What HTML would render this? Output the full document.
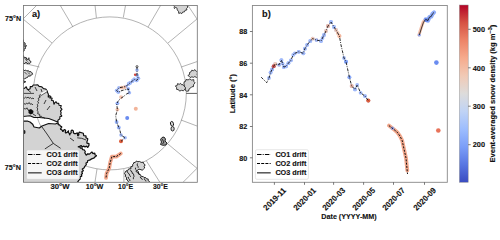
<!DOCTYPE html><html><head><meta charset="utf-8"><style>html,body{margin:0;padding:0;background:#fff;}svg{display:block;}text{font-family:"Liberation Sans", sans-serif;font-weight:bold;fill:#111;stroke:#111;stroke-width:0.12px;}</style></head><body>
<svg width="500" height="225" viewBox="0 0 500 225">
<defs><clipPath id="mapclip"><rect x="23" y="5" width="174" height="177"/></clipPath><clipPath id="axclip"><rect x="252" y="5" width="195.5" height="177.3"/></clipPath><linearGradient id="cw" x1="0" y1="1" x2="0" y2="0"><stop offset="0" stop-color="#3a4cc0"/><stop offset="0.1" stop-color="#5876e2"/><stop offset="0.2" stop-color="#7b9ef8"/><stop offset="0.3" stop-color="#9dbdfe"/><stop offset="0.4" stop-color="#c0d3f5"/><stop offset="0.5" stop-color="#dddcdb"/><stop offset="0.6" stop-color="#f1cab6"/><stop offset="0.7" stop-color="#f6ab8d"/><stop offset="0.8" stop-color="#ed8467"/><stop offset="0.9" stop-color="#d65243"/><stop offset="1" stop-color="#b30326"/></linearGradient></defs>
<g clip-path="url(#mapclip)">
<circle cx="109.8" cy="93.4" r="76.5" fill="none" stroke="#666" stroke-width="0.5"/>
<line x1="23.0" y1="19.0" x2="37.0" y2="5.0" stroke="#666" stroke-width="0.5"/>
<line x1="23.0" y1="19.0" x2="52.0" y2="43.0" stroke="#666" stroke-width="0.5"/>
<line x1="60.0" y1="5.0" x2="73.0" y2="27.0" stroke="#666" stroke-width="0.5"/>
<line x1="95.0" y1="5.0" x2="96.4" y2="17.8" stroke="#666" stroke-width="0.5"/>
<line x1="125.6" y1="5.0" x2="123.3" y2="17.5" stroke="#666" stroke-width="0.5"/>
<line x1="160.8" y1="5.0" x2="148.0" y2="27.0" stroke="#666" stroke-width="0.5"/>
<line x1="187.7" y1="5.0" x2="197.0" y2="19.0" stroke="#666" stroke-width="0.5"/>
<line x1="197.0" y1="19.0" x2="168.0" y2="43.0" stroke="#666" stroke-width="0.5"/>
<line x1="197.0" y1="61.6" x2="181.3" y2="67.0" stroke="#666" stroke-width="0.5"/>
<line x1="197.0" y1="126.0" x2="181.0" y2="120.0" stroke="#666" stroke-width="0.5"/>
<line x1="197.0" y1="168.3" x2="167.8" y2="143.9" stroke="#666" stroke-width="0.5"/>
<line x1="197.0" y1="168.3" x2="183.3" y2="182.0" stroke="#666" stroke-width="0.5"/>
<line x1="146.4" y1="160.9" x2="159.7" y2="182.0" stroke="#666" stroke-width="0.5"/>
<line x1="123.9" y1="169.4" x2="123.9" y2="182.0" stroke="#666" stroke-width="0.5"/>
<line x1="97.0" y1="169.0" x2="95.0" y2="182.0" stroke="#666" stroke-width="0.5"/>
<line x1="23.0" y1="63.1" x2="39.4" y2="67.0" stroke="#666" stroke-width="0.5"/>
<line x1="53.3" y1="143.4" x2="23.0" y2="166.0" stroke="#666" stroke-width="0.5"/>
<line x1="23.0" y1="166.0" x2="37.0" y2="182.0" stroke="#666" stroke-width="0.5"/>
<line x1="59.3" y1="182.0" x2="72.1" y2="160.0" stroke="#666" stroke-width="0.5"/>
<polygon points="22.60,88.47 24.42,88.42 26.27,86.62 26.96,88.72 28.11,89.71 30.18,88.68 30.21,86.46 32.14,86.58 33.24,84.99 35.02,84.93 37.82,84.89 39.06,86.37 41.62,86.75 43.49,88.61 45.61,88.96 47.00,90.60 47.80,93.00 48.41,94.27 48.18,97.34 49.56,95.66 50.70,96.50 51.18,96.65 49.44,97.89 52.16,98.16 51.95,99.21 51.22,100.18 52.93,100.72 53.50,100.80 53.47,101.50 53.93,104.36 54.97,102.50 55.60,102.20 55.92,101.54 56.89,103.22 58.76,103.35 58.98,105.25 61.31,105.66 60.56,107.63 62.06,109.45 60.42,111.00 61.20,112.75 60.61,114.39 61.91,116.16 59.75,116.72 59.95,118.74 57.89,120.18 58.00,122.30 54.00,120.50 48.70,118.50 39.30,117.50 34.00,117.50 30.00,115.80 23.00,116.50" fill="#d3d3d3" stroke="#111" stroke-width="1.1" stroke-linejoin="bevel"/>
<polyline points="47,90.6 43,93 38.7,95.6" fill="none" stroke="#fff" stroke-width="1.1"/>
<polyline points="47.5,91.6 43.5,94 39.5,96.6" fill="none" stroke="#111" stroke-width="0.6"/>
<line x1="23" y1="93.4" x2="34" y2="93.4" stroke="#222" stroke-width="0.8"/>
<polygon points="23.00,121.00 27.30,121.00 30.00,122.00 32.70,124.30 34.00,127.00 39.30,128.00 42.00,126.00 48.70,123.50 55.30,124.00 58.30,122.74 58.11,124.67 59.57,124.96 60.43,126.13 61.89,126.79 60.36,129.09 62.04,130.03 62.93,131.83 63.56,130.23 64.69,129.49 65.67,130.62 65.23,132.14 65.80,133.06 67.44,132.15 68.67,130.51 68.20,132.18 69.23,133.48 69.91,135.29 69.93,133.66 71.23,132.74 71.03,130.99 72.04,130.09 73.38,131.05 73.38,132.76 74.25,133.51 75.87,133.52 77.39,132.74 77.51,134.53 77.74,135.94 78.92,134.87 78.55,133.36 79.40,132.20 83.33,133.23 83.67,135.68 86.02,135.86 85.97,137.74 87.78,138.74 87.44,140.43 86.97,141.50 86.90,143.24 88.99,143.55 88.94,145.43 87.75,147.49 86.55,146.10 84.97,147.03 83.70,146.10 82.26,147.11 81.06,145.49 79.60,146.70 77.81,146.80 79.77,146.38 80.27,148.04 81.93,148.05 82.56,149.53 84.13,149.77 85.31,151.48 84.78,152.71 86.23,155.29 87.69,153.78 89.53,154.17 91.86,151.92 92.94,153.65 94.82,152.99 94.91,154.70 96.71,155.79 95.40,156.44 93.69,158.19 91.56,158.88 89.62,160.22 87.70,160.50 87.44,162.37 85.93,162.96 86.37,164.60 84.81,166.40 84.02,167.94 82.18,169.04 83.42,170.72 81.76,171.81 82.49,173.42 81.31,174.53 81.81,176.19 79.99,176.91 80.22,178.91 79.00,180.00 77.00,183.00 23.00,183.00" fill="#d3d3d3" stroke="#111" stroke-width="1.25" stroke-linejoin="bevel"/>
<polyline points="40.77,94.35 39.09,95.41 40.09,97.31 38.20,98.32 38.99,100.08 37.74,101.42 38.64,103.11 37.25,104.42 37.90,106.00 37.03,107.50 37.82,109.00 37.05,110.50 38.17,111.58 37.67,113.75 39.67,114.35 39.77,116.46 41.44,116.24 42.37,117.51 43.93,117.52 45.00,118.50" fill="none" stroke="#111" stroke-width="0.8"/>
<polyline points="23.88,103.42 25.37,104.37 26.42,103.12 27.87,103.83 29.26,102.47 30.09,104.16 31.91,103.85 33.00,105.00" fill="none" stroke="#111" stroke-width="0.8"/>
<polyline points="22.94,97.42 24.29,98.26 25.44,97.20 26.78,97.97 28.11,97.07 29.06,98.37 30.53,97.57 31.51,98.74 32.96,98.05 34.00,99.00" fill="none" stroke="#111" stroke-width="0.8"/>
<polyline points="23.86,108.57 25.63,108.90 27.15,107.90 27.33,109.23 28.57,109.84 29.00,111.00" fill="none" stroke="#111" stroke-width="0.8"/>
<polyline points="41.30,126.00 47.00,134.00 53.30,143.40 60.60,148.30" fill="none" stroke="#111" stroke-width="0.8"/>
<polyline points="53.30,143.40 44.80,149.00" fill="none" stroke="#111" stroke-width="0.8"/>
<polyline points="46.00,100.00 44.00,104.00" fill="none" stroke="#111" stroke-width="0.8"/>
<polyline points="50.00,106.00 47.00,110.00" fill="none" stroke="#111" stroke-width="0.8"/>
<polyline points="77.20,137.80 81.70,138.30 86.10,140.00" fill="none" stroke="#111" stroke-width="0.8"/>
<polyline points="70.00,138.00 74.00,141.00" fill="none" stroke="#111" stroke-width="0.8"/>
<polyline points="28.00,90.00 31.00,92.50" fill="none" stroke="#111" stroke-width="0.8"/>
<polyline points="35.00,87.00 37.00,91.00" fill="none" stroke="#111" stroke-width="0.8"/>
<polyline points="41.00,89.00 42.00,92.00" fill="none" stroke="#111" stroke-width="0.8"/>
<polyline points="33.00,114.00 36.00,116.00" fill="none" stroke="#111" stroke-width="0.8"/>
<polygon points="28.5,110 31,109 33.5,111 33,113.5 30.5,114.5 28.5,113" fill="#111"/>
<polygon points="23.50,39.80 23.53,42.44 25.15,43.00 24.92,44.75 26.66,45.83 25.20,46.81 25.45,48.57 23.84,49.14 24.20,50.88 23.00,51.70" fill="#d3d3d3" stroke="#111" stroke-width="0.9" stroke-linejoin="bevel"/>
<polygon points="23.25,55.51 24.34,57.81 26.21,57.58 26.76,59.39 28.85,59.03 29.46,60.61 30.94,61.45 30.75,62.36 29.85,63.48 28.86,63.04 27.12,63.66 26.06,62.08 24.78,63.57 23.00,63.60" fill="#d3d3d3" stroke="#111" stroke-width="0.9" stroke-linejoin="bevel"/>
<polygon points="23.11,69.25 24.22,70.62 25.72,70.04 26.83,71.17 28.29,70.48 29.05,71.78 31.04,71.73 31.91,72.75 32.61,74.22 31.57,74.69 30.29,76.15 28.45,75.84 27.60,77.36 26.20,77.87 24.60,78.83 23.00,78.30" fill="#d3d3d3" stroke="#111" stroke-width="0.9" stroke-linejoin="bevel"/>
<polygon points="23.17,79.63 23.91,81.11 25.77,81.77 24.04,82.44 23.00,83.80" fill="#d3d3d3" stroke="#111" stroke-width="0.9" stroke-linejoin="bevel"/>
<circle cx="28.9" cy="58.3" r="0.7" fill="#111"/>
<ellipse cx="24.3" cy="132" rx="1.2" ry="2" fill="#222"/>
<polyline points="25.00,58.50 27.50,61.50" fill="none" stroke="#111" stroke-width="0.7"/>
<polyline points="24.50,72.00 27.00,74.50" fill="none" stroke="#111" stroke-width="0.7"/>
<polyline points="28.00,72.50 30.00,74.50" fill="none" stroke="#111" stroke-width="0.7"/>
<polyline points="23.50,44.00 25.00,47.00" fill="none" stroke="#111" stroke-width="0.7"/>
<polygon points="133.74,162.65 135.39,162.36 136.45,160.97 137.85,161.77 139.46,161.44 141.15,162.39 143.24,162.22 143.72,163.74 145.23,164.89 144.11,166.22 144.68,167.96 143.50,169.11 142.16,170.22 140.96,169.66 138.95,169.15 137.21,170.33 138.53,171.89 138.54,174.12 140.47,174.79 141.52,176.75 143.18,176.45 144.10,177.60 145.63,177.54 146.49,178.83 148.23,178.99 148.06,180.57 149.47,181.43 149.50,183.00 129.20,183.00 126.80,179.20 126.18,179.47 126.76,177.56 125.22,176.56 125.61,175.00 124.48,173.50 125.23,172.31 126.03,170.88 127.66,170.63 128.65,168.88 130.94,168.81 130.75,166.79 132.64,166.26 132.77,164.30 134.00,163.00" fill="#d3d3d3" stroke="#111" stroke-width="0.9" stroke-linejoin="bevel"/>
<polyline points="127.15,171.10 127.79,172.80 129.15,173.89 129.72,175.60 131.00,176.80" fill="none" stroke="#111" stroke-width="0.85"/>
<polyline points="130.69,169.98 130.96,171.28 132.14,171.90 132.19,173.36 133.51,173.87 133.70,174.96 134.03,176.43 133.35,177.76 133.40,179.20" fill="none" stroke="#111" stroke-width="0.85"/>
<polyline points="135.67,167.64 135.33,169.09 136.46,170.05 136.07,171.73 137.55,172.05 138.03,173.37 139.45,173.75 140.00,175.00" fill="none" stroke="#111" stroke-width="0.85"/>
<polyline points="140.25,176.60 140.57,177.98 141.80,178.64 142.40,179.80" fill="none" stroke="#111" stroke-width="0.85"/>
<polyline points="137.48,163.46 137.09,165.09 138.04,166.33 138.20,167.80" fill="none" stroke="#111" stroke-width="0.85"/>
<polyline points="128.28,176.86 128.49,178.42 129.66,179.50 130.00,181.00" fill="none" stroke="#111" stroke-width="0.85"/>
<polyline points="144.25,178.33 144.46,179.64 145.69,180.27 146.00,181.50" fill="none" stroke="#111" stroke-width="0.85"/>
<ellipse cx="172" cy="123.8" rx="1.5" ry="2.4" fill="#d3d3d3" stroke="#111" stroke-width="0.9" transform="rotate(-15 172 123.8)"/>
<ellipse cx="172.6" cy="128.8" rx="1.6" ry="2.2" fill="#d3d3d3" stroke="#111" stroke-width="0.9"/>
<polygon points="160.5,139.5 162,137.5 164,137 165.5,139 165,141 167,143 166,145 163,145.3 160.5,144.5 161.5,142" fill="#999" stroke="#111" stroke-width="0.9"/>
<polyline points="162,139 164,142 162.5,144" fill="none" stroke="#111" stroke-width="0.8"/>
<polygon points="173.59,3.82 173.38,5.29 174.38,6.31 174.17,7.78 174.44,8.56 175.74,7.32 177.11,8.33 177.23,9.92 178.42,11.25 178.81,13.49 180.25,12.80 181.74,13.66 182.64,12.08 184.48,11.86 185.03,10.31 186.87,9.96 186.63,8.38 187.80,7.16 187.20,5.51 187.70,3.60 186.37,4.32 185.05,3.70 183.72,4.40 182.39,3.62 181.06,4.33 179.74,3.51 178.41,4.43 177.08,3.80 175.75,4.29 174.43,3.63 173.10,4.00" fill="#d3d3d3" stroke="#111" stroke-width="0.8" stroke-linejoin="bevel"/>
<polygon points="187.89,75.45 189.60,74.49 189.51,72.51 190.98,71.88 191.78,70.21 193.43,70.70 195.03,69.65 196.43,71.49 197.61,72.74 197.07,74.32 198.28,75.57 198.00,76.76 196.43,77.44 194.87,76.56 193.30,77.36 191.90,76.80 190.21,77.54 188.40,75.70" fill="#d3d3d3" stroke="#111" stroke-width="0.8" stroke-linejoin="bevel"/>
<polygon points="183.95,81.96 185.53,81.37 186.11,79.44 188.07,79.91 189.86,78.91 191.45,80.05 193.80,79.64 193.84,81.46 195.15,82.95 193.67,84.39 193.48,86.64 191.75,86.77 190.70,87.95 189.11,88.94 188.56,91.10 186.39,91.21 185.25,90.02 185.31,88.38 183.95,87.17 184.56,85.60 183.91,83.85 184.10,82.10" fill="#d3d3d3" stroke="#111" stroke-width="0.8" stroke-linejoin="bevel"/>
<polygon points="175.26,85.96 177.07,85.67 177.55,83.62 179.22,84.31 180.60,83.33 181.43,84.66 183.04,84.66 183.68,85.76 185.34,87.19 185.23,88.80 183.40,90.84 181.60,90.30 179.55,91.11 178.51,89.68 176.61,89.39 176.62,87.60 175.60,86.30" fill="#d3d3d3" stroke="#111" stroke-width="0.8" stroke-linejoin="bevel"/>
<line x1="186.2" y1="93.4" x2="197" y2="93.4" stroke="#333" stroke-width="0.8"/>
<g opacity="0.70"><circle cx="137.00" cy="70.00" r="1.80" fill="#7b9ef8"/><circle cx="137.00" cy="75.30" r="1.80" fill="#7b9ef8"/><circle cx="137.00" cy="75.30" r="1.80" fill="#7b9ef8"/><circle cx="138.30" cy="78.30" r="1.80" fill="#7b9ef8"/><circle cx="138.30" cy="78.30" r="1.80" fill="#7b9ef8"/><circle cx="136.70" cy="80.40" r="1.80" fill="#7b9ef8"/><circle cx="136.70" cy="80.40" r="1.80" fill="#7b9ef8"/><circle cx="134.20" cy="79.30" r="1.80" fill="#7b9ef8"/><circle cx="134.20" cy="79.30" r="1.80" fill="#7b9ef8"/><circle cx="132.70" cy="80.90" r="1.80" fill="#7b9ef8"/><circle cx="132.70" cy="80.90" r="1.80" fill="#7b9ef8"/><circle cx="130.10" cy="82.90" r="1.80" fill="#7b9ef8"/><circle cx="130.10" cy="82.90" r="1.80" fill="#7b9ef8"/><circle cx="128.60" cy="83.90" r="1.80" fill="#7b9ef8"/><circle cx="128.60" cy="83.90" r="1.80" fill="#7b9ef8"/><circle cx="126.00" cy="86.50" r="1.80" fill="#7b9ef8"/><circle cx="118.90" cy="87.80" r="1.80" fill="#7b9ef8"/><circle cx="116.70" cy="90.60" r="1.80" fill="#7b9ef8"/><circle cx="116.70" cy="90.60" r="1.80" fill="#7b9ef8"/><circle cx="118.30" cy="92.20" r="1.80" fill="#7b9ef8"/><circle cx="128.30" cy="88.90" r="1.80" fill="#7b9ef8"/><circle cx="129.40" cy="92.80" r="1.80" fill="#7b9ef8"/><circle cx="121.00" cy="135.10" r="1.80" fill="#7b9ef8"/><circle cx="125.10" cy="137.80" r="1.80" fill="#7b9ef8"/></g>
<circle cx="135.2" cy="74.8" r="1.3" fill="#d0473d"/>
<circle cx="121.0" cy="97.1" r="1.9" fill="#f2b49a" opacity="0.8"/>
<circle cx="117.4" cy="103.3" r="1.9" fill="#7b9ef8" opacity="0.8"/>
<circle cx="117.4" cy="109.6" r="1.9" fill="#f2b49a" opacity="0.8"/>
<circle cx="116.6" cy="122.0" r="1.9" fill="#7b9ef8" opacity="0.8"/>
<circle cx="118.8" cy="127.5" r="1.9" fill="#7b9ef8" opacity="0.8"/>
<circle cx="121.5" cy="87.6" r="1.9" fill="#f2b49a" opacity="0.8"/>
<circle cx="124.5" cy="87.2" r="1.9" fill="#f2b49a" opacity="0.8"/>
<circle cx="121" cy="141.3" r="2" fill="#e0603f"/>
<polyline points="137.00,66.60 137.00,70.00 137.00,75.30 138.30,78.30 136.70,80.40 134.20,79.30 132.70,80.90 130.10,82.90 128.60,83.90 126.00,86.50 118.90,87.80 116.70,90.60 118.30,92.20 122.00,90.50 128.30,88.90 129.40,92.80 126.70,93.90 123.30,96.70 120.00,98.90 117.80,101.70 116.70,103.90 117.40,109.60 115.70,115.80 116.60,122.00 119.80,129.80 121.00,135.10 125.10,137.80 121.00,141.30" fill="none" stroke="#111" stroke-width="0.9" stroke-dasharray="3,1.2,0.9,1.2"/>
<circle cx="137" cy="66.6" r="1.0" fill="#fff" stroke="#111" stroke-width="0.7"/>
<circle cx="135.8" cy="108.7" r="2" fill="#f2b49a"/>
<circle cx="127.2" cy="118.1" r="2" fill="#6a8cf0"/>
<polyline points="120.80,153.50 116.30,156.60 111.90,156.60 110.10,162.80 109.20,168.10 106.60,173.40 106.00,177.90" fill="none" stroke="#f19d7f" stroke-width="3.8" stroke-linecap="round" stroke-linejoin="round" opacity="0.9"/>
<polyline points="120.80,153.50 116.30,156.60 111.90,156.60 110.10,162.80 109.20,168.10 106.60,173.40 106.00,177.90" fill="none" stroke="#111" stroke-width="1.0" stroke-dasharray="2,1.3"/>
<rect x="26.4" y="149.8" width="53" height="29.6" rx="1.5" fill="#fff" fill-opacity="0.8" stroke="#ccc" stroke-width="0.7"/>
</g>
<line x1="28.0" y1="154.5" x2="41.7" y2="154.5" stroke="#000" stroke-width="1.0" stroke-dasharray="4.5,1.2,1,1.2"/>
<line x1="28.0" y1="163.5" x2="41.7" y2="163.5" stroke="#000" stroke-width="1.0" stroke-dasharray="3,1.2"/>
<line x1="28.0" y1="172.8" x2="41.7" y2="172.8" stroke="#555" stroke-width="1.5"/>
<text x="46.6" y="156.8" font-size="6.60" text-anchor="start" textLength="31.0" lengthAdjust="spacingAndGlyphs" >CO1 drift</text>
<text x="46.6" y="165.8" font-size="6.60" text-anchor="start" textLength="31.0" lengthAdjust="spacingAndGlyphs" >CO2 drift</text>
<text x="46.6" y="175.1" font-size="6.60" text-anchor="start" textLength="31.0" lengthAdjust="spacingAndGlyphs" >CO3 drift</text>
<rect x="23.5" y="5.5" width="173.8" height="176.8" fill="none" stroke="#777" stroke-width="0.85"/>
<text x="32.0" y="17.0" font-size="9.20" text-anchor="start" >a)</text>
<text x="21.1" y="21.1" font-size="7.00" text-anchor="end" textLength="16.0" lengthAdjust="spacingAndGlyphs" >75°N</text>
<text x="20.8" y="169.8" font-size="7.00" text-anchor="end" textLength="16.0" lengthAdjust="spacingAndGlyphs" >75°N</text>
<text x="60.0" y="189.1" font-size="7.00" text-anchor="middle" textLength="19.0" lengthAdjust="spacingAndGlyphs" >30°W</text>
<text x="94.5" y="189.1" font-size="7.00" text-anchor="middle" textLength="17.7" lengthAdjust="spacingAndGlyphs" >10°W</text>
<text x="125.6" y="189.1" font-size="7.00" text-anchor="middle" textLength="15.0" lengthAdjust="spacingAndGlyphs" >10°E</text>
<text x="160.4" y="189.1" font-size="7.00" text-anchor="middle" textLength="15.0" lengthAdjust="spacingAndGlyphs" >30°E</text>
<g clip-path="url(#axclip)">
<g opacity="0.70"><circle cx="269.00" cy="78.00" r="1.90" fill="#7b9ef8"/><circle cx="270.60" cy="72.50" r="1.90" fill="#7b9ef8"/><circle cx="270.60" cy="72.50" r="1.90" fill="#7b9ef8"/><circle cx="272.10" cy="69.40" r="1.90" fill="#7b9ef8"/><circle cx="272.10" cy="69.40" r="1.90" fill="#7b9ef8"/><circle cx="273.70" cy="66.30" r="1.90" fill="#7b9ef8"/><circle cx="273.70" cy="66.30" r="1.90" fill="#7b9ef8"/><circle cx="275.20" cy="64.00" r="1.90" fill="#7b9ef8"/><circle cx="275.20" cy="64.00" r="1.90" fill="#f2b49a"/><circle cx="279.10" cy="64.80" r="1.90" fill="#f2b49a"/><circle cx="279.10" cy="64.80" r="1.90" fill="#7b9ef8"/><circle cx="281.40" cy="60.10" r="1.90" fill="#7b9ef8"/><circle cx="281.40" cy="60.10" r="1.90" fill="#7b9ef8"/><circle cx="282.60" cy="63.60" r="1.90" fill="#7b9ef8"/><circle cx="283.80" cy="67.10" r="1.90" fill="#7b9ef8"/><circle cx="283.80" cy="67.10" r="1.90" fill="#7b9ef8"/><circle cx="286.10" cy="66.30" r="1.90" fill="#7b9ef8"/><circle cx="286.10" cy="66.30" r="1.90" fill="#7b9ef8"/><circle cx="288.40" cy="63.20" r="1.90" fill="#7b9ef8"/><circle cx="288.40" cy="63.20" r="1.90" fill="#7b9ef8"/><circle cx="290.90" cy="60.30" r="1.90" fill="#7b9ef8"/><circle cx="290.90" cy="60.30" r="1.90" fill="#7b9ef8"/><circle cx="293.20" cy="54.90" r="1.90" fill="#7b9ef8"/><circle cx="294.80" cy="53.30" r="1.90" fill="#7b9ef8"/><circle cx="298.70" cy="51.80" r="1.90" fill="#7b9ef8"/><circle cx="298.70" cy="51.80" r="1.90" fill="#7b9ef8"/><circle cx="303.30" cy="53.30" r="1.90" fill="#7b9ef8"/><circle cx="303.30" cy="53.30" r="1.90" fill="#7b9ef8"/><circle cx="304.90" cy="48.70" r="1.90" fill="#7b9ef8"/><circle cx="304.90" cy="48.70" r="1.90" fill="#7b9ef8"/><circle cx="307.20" cy="44.80" r="1.90" fill="#7b9ef8"/><circle cx="307.20" cy="44.80" r="1.90" fill="#7b9ef8"/><circle cx="310.30" cy="40.90" r="1.90" fill="#7b9ef8"/><circle cx="310.30" cy="40.90" r="1.90" fill="#7b9ef8"/><circle cx="312.70" cy="38.60" r="1.90" fill="#7b9ef8"/><circle cx="312.70" cy="38.60" r="1.90" fill="#f2b49a"/><circle cx="316.50" cy="40.10" r="1.90" fill="#f2b49a"/><circle cx="316.50" cy="40.10" r="1.90" fill="#7b9ef8"/><circle cx="321.00" cy="41.00" r="1.90" fill="#7b9ef8"/><circle cx="321.00" cy="41.00" r="1.90" fill="#7b9ef8"/><circle cx="322.50" cy="38.00" r="1.90" fill="#7b9ef8"/><circle cx="324.00" cy="35.00" r="1.90" fill="#7b9ef8"/><circle cx="324.00" cy="35.00" r="1.90" fill="#7b9ef8"/><circle cx="326.00" cy="31.00" r="1.90" fill="#7b9ef8"/><circle cx="326.00" cy="31.00" r="1.90" fill="#f2b49a"/><circle cx="328.00" cy="26.00" r="1.90" fill="#f2b49a"/><circle cx="328.00" cy="26.00" r="1.90" fill="#7b9ef8"/><circle cx="331.00" cy="22.00" r="1.90" fill="#7b9ef8"/><circle cx="331.00" cy="22.00" r="1.90" fill="#7b9ef8"/><circle cx="334.00" cy="27.00" r="1.90" fill="#7b9ef8"/><circle cx="334.00" cy="27.00" r="1.90" fill="#7b9ef8"/><circle cx="336.00" cy="30.00" r="1.90" fill="#7b9ef8"/><circle cx="336.00" cy="30.00" r="1.90" fill="#f2b49a"/><circle cx="337.70" cy="33.00" r="1.90" fill="#f2b49a"/><circle cx="339.40" cy="36.00" r="1.90" fill="#f2b49a"/><circle cx="344.00" cy="58.00" r="1.90" fill="#7b9ef8"/><circle cx="346.00" cy="61.70" r="1.90" fill="#7b9ef8"/><circle cx="351.70" cy="86.10" r="1.90" fill="#7b9ef8"/><circle cx="355.00" cy="89.40" r="1.90" fill="#7b9ef8"/><circle cx="355.00" cy="89.40" r="1.90" fill="#7b9ef8"/><circle cx="357.20" cy="85.00" r="1.90" fill="#7b9ef8"/><circle cx="360.60" cy="92.80" r="1.90" fill="#7b9ef8"/><circle cx="365.00" cy="96.10" r="1.90" fill="#7b9ef8"/><circle cx="365.00" cy="96.10" r="1.90" fill="#7b9ef8"/><circle cx="368.30" cy="100.60" r="1.90" fill="#7b9ef8"/></g>
<circle cx="273.7" cy="66.3" r="2" fill="#d0473d" opacity="0.9"/>
<circle cx="339.4" cy="36.0" r="2" fill="#f2b49a" opacity="0.9"/>
<circle cx="328.0" cy="26.0" r="2" fill="#f2b49a" opacity="0.9"/>
<circle cx="351.7" cy="86.1" r="2" fill="#f2b49a" opacity="0.9"/>
<circle cx="346.0" cy="61.7" r="2" fill="#7b9ef8" opacity="0.9"/>
<circle cx="349.4" cy="77.2" r="2" fill="#7b9ef8" opacity="0.9"/>
<circle cx="368.3" cy="100.6" r="2.1" fill="#e0603f"/>
<polyline points="261.20,77.20 266.70,82.70 269.00,78.00 270.60,72.50 272.10,69.40 273.70,66.30 275.20,64.00 279.10,64.80 281.40,60.10 283.80,67.10 286.10,66.30 288.40,63.20 290.90,60.30 293.20,54.90 294.80,53.30 298.70,51.80 303.30,53.30 304.90,48.70 307.20,44.80 310.30,40.90 312.70,38.60 316.50,40.10 321.00,41.00 324.00,35.00 326.00,31.00 328.00,26.00 331.00,22.00 334.00,27.00 336.00,30.00 339.40,36.00 341.00,45.00 344.00,58.00 346.00,61.70 349.40,77.20 351.70,86.10 355.00,89.40 357.20,85.00 360.60,92.80 365.00,96.10 368.30,100.60" fill="none" stroke="#111" stroke-width="0.9" stroke-dasharray="3,1.2,0.9,1.2"/>
<polyline points="388.90,125.60 393.30,128.90 397.20,132.20 400.00,136.10 402.20,140.60 404.00,149.00 406.00,158.00 407.30,170.50" fill="none" stroke="#f19d7f" stroke-width="3.8" stroke-linecap="round" stroke-linejoin="round" opacity="0.9"/>
<circle cx="392.5" cy="128.3" r="1.7" fill="#7b9ef8" opacity="0.8"/>
<polyline points="388.90,125.60 393.30,128.90 397.20,132.20 400.00,136.10 402.20,140.60 404.00,149.00 406.00,158.00 407.50,174.00" fill="none" stroke="#111" stroke-width="1.0" stroke-dasharray="2,1.3"/>
<polyline points="418.90,35.00 421.10,28.00 423.10,22.20 425.30,19.40" fill="none" stroke="#f2b49a" stroke-width="3" stroke-linecap="round" stroke-linejoin="round" opacity="0.85"/>
<polyline points="425.70,19.40 428.00,20.50 429.50,17.00 431.20,16.50 432.50,13.80 434.00,12.50" fill="none" stroke="#7b9ef8" stroke-width="4.2" stroke-linecap="round" stroke-linejoin="round" opacity="0.85"/>
<circle cx="426.5" cy="20" r="2.2" fill="#6a8cf0"/>
<circle cx="419.3" cy="35" r="1.6" fill="#7b9ef8" opacity="0.8"/>
<polyline points="419.30,35.00 421.50,28.00 423.50,22.20 425.70,19.40 428.00,20.50 429.50,17.00 431.20,16.50 432.50,13.80 434.00,12.50" fill="none" stroke="#111" stroke-width="0.8"/>
<circle cx="436.4" cy="62.6" r="2.3" fill="#6a8cf0"/>
<circle cx="438.3" cy="130.5" r="2.3" fill="#e8735a"/>
</g>
<rect x="255.4" y="149.7" width="53" height="29.6" rx="1.5" fill="#fff" fill-opacity="0.8" stroke="#ddd" stroke-width="0.7"/>
<line x1="257.0" y1="154.5" x2="270.7" y2="154.5" stroke="#000" stroke-width="1.0" stroke-dasharray="4.5,1.2,1,1.2"/>
<line x1="257.0" y1="163.5" x2="270.7" y2="163.5" stroke="#000" stroke-width="1.0" stroke-dasharray="3,1.2"/>
<line x1="257.0" y1="172.8" x2="270.7" y2="172.8" stroke="#555" stroke-width="1.5"/>
<text x="275.4" y="156.8" font-size="6.60" text-anchor="start" textLength="31.0" lengthAdjust="spacingAndGlyphs" >CO1 drift</text>
<text x="275.4" y="165.8" font-size="6.60" text-anchor="start" textLength="31.0" lengthAdjust="spacingAndGlyphs" >CO2 drift</text>
<text x="275.4" y="175.1" font-size="6.60" text-anchor="start" textLength="31.0" lengthAdjust="spacingAndGlyphs" >CO3 drift</text>
<rect x="252.4" y="5.5" width="194.9" height="176.8" fill="none" stroke="#888" stroke-width="0.9"/>
<line x1="249.9" y1="31.5" x2="252.4" y2="31.5" stroke="#444" stroke-width="0.7"/>
<text x="247.3" y="34.4" font-size="8.00" text-anchor="end" textLength="8.0" lengthAdjust="spacingAndGlyphs" >88</text>
<line x1="249.9" y1="63.2" x2="252.4" y2="63.2" stroke="#444" stroke-width="0.7"/>
<text x="247.3" y="66.1" font-size="8.00" text-anchor="end" textLength="8.0" lengthAdjust="spacingAndGlyphs" >86</text>
<line x1="249.9" y1="94.8" x2="252.4" y2="94.8" stroke="#444" stroke-width="0.7"/>
<text x="247.3" y="97.7" font-size="8.00" text-anchor="end" textLength="8.0" lengthAdjust="spacingAndGlyphs" >84</text>
<line x1="249.9" y1="126.5" x2="252.4" y2="126.5" stroke="#444" stroke-width="0.7"/>
<text x="247.3" y="129.4" font-size="8.00" text-anchor="end" textLength="8.0" lengthAdjust="spacingAndGlyphs" >82</text>
<line x1="249.9" y1="157.8" x2="252.4" y2="157.8" stroke="#444" stroke-width="0.7"/>
<text x="247.3" y="160.7" font-size="8.00" text-anchor="end" textLength="8.0" lengthAdjust="spacingAndGlyphs" >80</text>
<text x="0.0" y="0.0" font-size="6.80" text-anchor="middle" textLength="39.3" lengthAdjust="spacingAndGlyphs" transform="translate(235.2,93.7) rotate(-90)">Latitude (°)</text>
<line x1="274.4" y1="182.3" x2="274.4" y2="184.8" stroke="#444" stroke-width="0.7"/>
<text x="0.0" y="0.0" font-size="8.20" text-anchor="middle" textLength="28.3" lengthAdjust="spacingAndGlyphs" transform="translate(274.5,198.9) rotate(-45) translate(0,2.9)">2019-11</text>
<line x1="304.5" y1="182.3" x2="304.5" y2="184.8" stroke="#444" stroke-width="0.7"/>
<text x="0.0" y="0.0" font-size="8.20" text-anchor="middle" textLength="28.3" lengthAdjust="spacingAndGlyphs" transform="translate(304.6,198.9) rotate(-45) translate(0,2.9)">2020-01</text>
<line x1="333.6" y1="182.3" x2="333.6" y2="184.8" stroke="#444" stroke-width="0.7"/>
<text x="0.0" y="0.0" font-size="8.20" text-anchor="middle" textLength="28.3" lengthAdjust="spacingAndGlyphs" transform="translate(333.7,198.9) rotate(-45) translate(0,2.9)">2020-03</text>
<line x1="363.6" y1="182.3" x2="363.6" y2="184.8" stroke="#444" stroke-width="0.7"/>
<text x="0.0" y="0.0" font-size="8.20" text-anchor="middle" textLength="28.3" lengthAdjust="spacingAndGlyphs" transform="translate(363.7,198.9) rotate(-45) translate(0,2.9)">2020-05</text>
<line x1="393.5" y1="182.3" x2="393.5" y2="184.8" stroke="#444" stroke-width="0.7"/>
<text x="0.0" y="0.0" font-size="8.20" text-anchor="middle" textLength="28.3" lengthAdjust="spacingAndGlyphs" transform="translate(393.6,198.9) rotate(-45) translate(0,2.9)">2020-07</text>
<line x1="424.5" y1="182.3" x2="424.5" y2="184.8" stroke="#444" stroke-width="0.7"/>
<text x="0.0" y="0.0" font-size="8.20" text-anchor="middle" textLength="28.3" lengthAdjust="spacingAndGlyphs" transform="translate(424.6,198.9) rotate(-45) translate(0,2.9)">2020-09</text>
<text x="349.0" y="219.0" font-size="6.80" text-anchor="middle" textLength="55.3" lengthAdjust="spacingAndGlyphs" >Date (YYYY-MM)</text>
<text x="262.1" y="16.5" font-size="9.20" text-anchor="start" >b)</text>
<rect x="459.3" y="5" width="8.9" height="177.3" fill="url(#cw)"/>
<rect x="459.3" y="5" width="8.9" height="177.3" fill="none" stroke="#999" stroke-width="0.5"/>
<line x1="468.2" y1="29.3" x2="470.7" y2="29.3" stroke="#444" stroke-width="0.7"/>
<text x="472.7" y="32.0" font-size="7.50" text-anchor="start" textLength="12.3" lengthAdjust="spacingAndGlyphs" >500</text>
<line x1="468.2" y1="67.8" x2="470.7" y2="67.8" stroke="#444" stroke-width="0.7"/>
<text x="472.7" y="70.5" font-size="7.50" text-anchor="start" textLength="12.3" lengthAdjust="spacingAndGlyphs" >400</text>
<line x1="468.2" y1="106.2" x2="470.7" y2="106.2" stroke="#444" stroke-width="0.7"/>
<text x="472.7" y="108.9" font-size="7.50" text-anchor="start" textLength="12.3" lengthAdjust="spacingAndGlyphs" >300</text>
<line x1="468.2" y1="144.7" x2="470.7" y2="144.7" stroke="#444" stroke-width="0.7"/>
<text x="472.7" y="147.4" font-size="7.50" text-anchor="start" textLength="12.3" lengthAdjust="spacingAndGlyphs" >200</text>
<text x="0.0" y="0.0" font-size="6.80" text-anchor="middle" textLength="138.0" lengthAdjust="spacingAndGlyphs" transform="translate(494.5,93.6) rotate(-90)">Event-averaged snow density (kg m<tspan dy="-2.5" font-size="5">−3</tspan><tspan dy="2.5">)</tspan></text>
</svg></body></html>
